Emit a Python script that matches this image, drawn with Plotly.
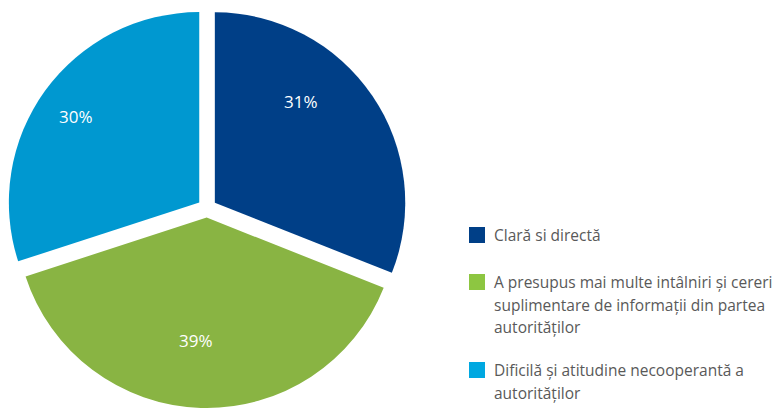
import plotly.graph_objects as go

# Survey answers and their shares
categories = [
    "Clară si directă",
    "A presupus mai multe intâlniri și cereri suplimentare de informații din partea autorităților",
    "Dificilă și atitudine necooperantă a autorităților",
]
values = [31, 39, 30]
slice_colors = ["#003F87", "#89B443", "#0098D0"]
legend_colors = ["#003F87", "#8DC641", "#00A8E1"]
legend_lines = [
    ["Clară si directă"],
    ["A presupus mai multe intâlniri și cereri", "suplimentare de informații din partea", "autorităților"],
    ["Dificilă și atitudine necooperantă a", "autorităților"],
]

W, H = 781, 408
FONT = "Open Sans, Noto Sans, sans-serif"

# Percentage label anchor points (pixels from top-left)
label_px = [(301, 101), (196, 340), (76, 117)]

fig = go.Figure(
    go.Pie(
        labels=categories,
        values=values,
        sort=False,
        direction="clockwise",
        rotation=0,
        pull=[0.05, 0.05, 0.05],
        marker=dict(colors=slice_colors, line=dict(width=0)),
        textinfo="none",
        showlegend=False,
        hoverinfo="label+percent",
        domain=dict(x=[0, 0.53], y=[0, 0.98]),
    )
)

total = sum(values)
annotations = []
for v, (px, py) in zip(values, label_px):
    annotations.append(dict(
        text=f"{round(100 * v / total)}%", xref="paper", yref="paper",
        x=px / W, y=1 - py / H, xanchor="center", yanchor="middle",
        showarrow=False, font=dict(size=17, color="white", family=FONT),
    ))

# Hand-built legend: one swatch per category, text lines to its right
item_top = [235, 282, 370]
line_step = 22.5
shapes = []
for i, lines in enumerate(legend_lines):
    y0 = item_top[i]
    shapes.append(dict(
        type="rect", xref="paper", yref="paper",
        x0=469 / W, x1=485 / W,
        y0=1 - (y0 + 8) / H, y1=1 - (y0 - 8) / H,
        fillcolor=legend_colors[i], line=dict(width=0),
    ))
    for j, txt in enumerate(lines):
        yy = y0 + j * line_step
        annotations.append(dict(
            text=txt, xref="paper", yref="paper",
            x=492 / W, y=1 - yy / H,
            xanchor="left", yanchor="middle", showarrow=False,
            font=dict(size=15.5, color="#595959", family=FONT),
        ))

fig.update_layout(
    width=W, height=H,
    margin=dict(l=0, r=0, t=0, b=0),
    paper_bgcolor="white",
    plot_bgcolor="white",
    shapes=shapes,
    annotations=annotations,
)

fig.write_html("out.html")
